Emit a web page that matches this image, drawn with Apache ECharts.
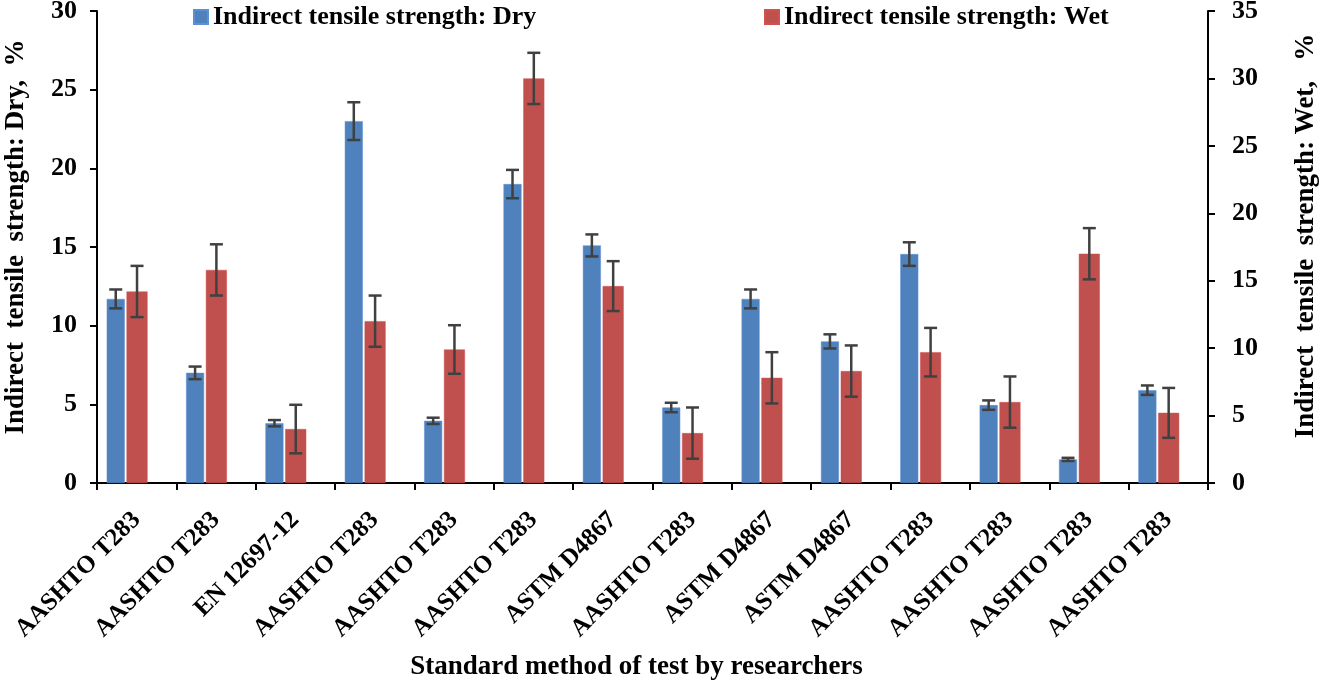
<!DOCTYPE html>
<html>
<head>
<meta charset="utf-8">
<script src="https://cdn.jsdelivr.net/npm/echarts@6/dist/echarts.min.js"></script>
<style>
  html, body { margin: 0; padding: 0; background: #fff; }
  #chart { width: 1324px; height: 686px; }
</style>
</head>
<body>
<div id="chart"></div>
<script>
const categories = [
  'AASHTO T283', 'AASHTO T283', 'EN 12697-12', 'AASHTO T283', 'AASHTO T283',
  'AASHTO T283', 'ASTM D4867', 'AASHTO T283', 'ASTM D4867', 'ASTM D4867',
  'AASHTO T283', 'AASHTO T283', 'AASHTO T283', 'AASHTO T283'
];
const dryValues = [11.7, 7.0, 3.8, 23.0, 3.95, 19.0, 15.1, 4.8, 11.7, 9.0, 14.55, 4.95, 1.5, 5.9];
const dryErrors = [0.6, 0.4, 0.2, 1.2, 0.2, 0.9, 0.7, 0.3, 0.6, 0.45, 0.75, 0.3, 0.1, 0.3];
const wetValues = [14.2, 15.8, 4.0, 12.0, 9.9, 30.0, 14.6, 3.7, 7.8, 8.3, 9.7, 6.0, 17.0, 5.2];
const wetErrors = [1.9, 1.9, 1.8, 1.9, 1.8, 1.9, 1.85, 1.9, 1.9, 1.9, 1.8, 1.9, 1.9, 1.85];
const dryTicks = { min: 0, max: 30, interval: 5 };
const wetTicks = { min: 0, max: 35, interval: 5 };

const FONT = 'Liberation Serif';
const DRY_COLOR = '#4F81BD';
const WET_COLOR = '#C0504D';
const ERR_COLOR = '#404040';

// bar layout: blue 18px, red 21px, 10% gap, then an empty spacer column
const DRY_W = 18, WET_W = 21, SPACER_W = 17, GAP = 0.1;
const widthSum = DRY_W * (1 + GAP) + WET_W * (1 + GAP) + SPACER_W;
const dryOffset = -widthSum / 2 + DRY_W / 2;
const wetOffset = -widthSum / 2 + DRY_W * (1 + GAP) + WET_W / 2;

function errorBar(offset) {
  return function (params, api) {
    const i = api.value(0);
    const v = api.value(1);
    const e = api.value(2);
    const hi = api.coord([i, v + e]);
    const lo = api.coord([i, v - e]);
    const x = hi[0] + offset;
    const cap = 6.5;
    const style = { stroke: ERR_COLOR, lineWidth: 2.5 };
    return {
      type: 'group',
      children: [
        { type: 'line', shape: { x1: x, y1: hi[1], x2: x, y2: lo[1] }, style },
        { type: 'line', shape: { x1: x - cap, y1: hi[1], x2: x + cap, y2: hi[1] }, style },
        { type: 'line', shape: { x1: x - cap, y1: lo[1], x2: x + cap, y2: lo[1] }, style }
      ]
    };
  };
}

const textBase = { fontFamily: FONT, fontWeight: 'bold', color: '#000' };
const axisLineStyle = { show: true, lineStyle: { color: '#000', width: 2 } };

const chart = echarts.init(document.getElementById('chart'));
chart.setOption({
  animation: false,
  backgroundColor: '#fff',
  legend: [
    {
      data: ['Indirect tensile strength: Dry'],
      left: 193, top: 4, padding: 0,
      icon: 'rect', itemWidth: 14, itemHeight: 14, itemGap: 6,
      textStyle: { ...textBase, fontSize: 26 }
    },
    {
      data: ['Indirect tensile strength: Wet'],
      left: 764, top: 4, padding: 0,
      icon: 'rect', itemWidth: 14, itemHeight: 14, itemGap: 6,
      textStyle: { ...textBase, fontSize: 26 }
    }
  ],
  grid: {
    left: 97, right: 116, top: 11, bottom: 203,
    containLabel: false, outerBoundsMode: 'none'
  },
  xAxis: {
    type: 'category',
    data: categories,
    axisLine: axisLineStyle,
    axisTick: { show: true, length: 7, interval: 0, lineStyle: { color: '#000', width: 2 } },
    axisLabel: { ...textBase, fontSize: 25, interval: 0, rotate: 45, margin: 33 },
    name: 'Standard method of test by researchers',
    nameLocation: 'middle',
    nameGap: 171,
    nameTextStyle: { ...textBase, fontSize: 27, padding: [0, 32, 0, 0] }
  },
  yAxis: [
    {
      type: 'value',
      position: 'left',
      min: dryTicks.min, max: dryTicks.max, interval: dryTicks.interval,
      splitLine: { show: false },
      axisLine: axisLineStyle,
      axisTick: { show: true, length: 7, lineStyle: { color: '#000', width: 2 } },
      axisLabel: { ...textBase, fontSize: 26, margin: 20 },
      name: 'Indirect  tensile  strength: Dry,  %',
      nameLocation: 'middle',
      nameRotate: 90,
      nameGap: 67,
      nameTextStyle: { ...textBase, fontSize: 27, padding: [0, 0, 0, 20] }
    },
    {
      type: 'value',
      position: 'right',
      min: wetTicks.min, max: wetTicks.max, interval: wetTicks.interval,
      splitLine: { show: false },
      axisLine: axisLineStyle,
      axisTick: { show: true, length: 7, lineStyle: { color: '#000', width: 2 } },
      axisLabel: { ...textBase, fontSize: 26, margin: 24 },
      name: 'Indirect  tensile  strength: Wet,   %',
      nameLocation: 'middle',
      nameRotate: 90,
      nameGap: 85,
      nameTextStyle: { ...textBase, fontSize: 27, padding: [0, 0, 0, 22] }
    }
  ],
  series: [
    {
      name: 'Indirect tensile strength: Dry',
      type: 'bar',
      yAxisIndex: 0,
      data: dryValues,
      barWidth: DRY_W,
      barGap: '10%',
      itemStyle: { color: DRY_COLOR, borderColor: '#5B8FD6', borderWidth: 0.5 }
    },
    {
      name: 'Indirect tensile strength: Wet',
      type: 'bar',
      yAxisIndex: 1,
      data: wetValues,
      barWidth: WET_W,
      barGap: '10%',
      itemStyle: { color: WET_COLOR, borderColor: '#D0514E', borderWidth: 0.5 }
    },
    {
      // empty spacer column, shifts the pair left like the source chart
      name: 'spacer',
      type: 'bar',
      yAxisIndex: 0,
      data: [],
      barWidth: SPACER_W,
      barGap: '10%'
    },
    {
      name: 'dryErr',
      type: 'custom',
      yAxisIndex: 0,
      renderItem: errorBar(dryOffset),
      encode: { x: 0, y: 1 },
      data: dryValues.map((v, i) => [i, v, dryErrors[i]]),
      z: 5
    },
    {
      name: 'wetErr',
      type: 'custom',
      yAxisIndex: 1,
      renderItem: errorBar(wetOffset),
      encode: { x: 0, y: 1 },
      data: wetValues.map((v, i) => [i, v, wetErrors[i]]),
      z: 5
    }
  ]
});
</script>
</body>
</html>
